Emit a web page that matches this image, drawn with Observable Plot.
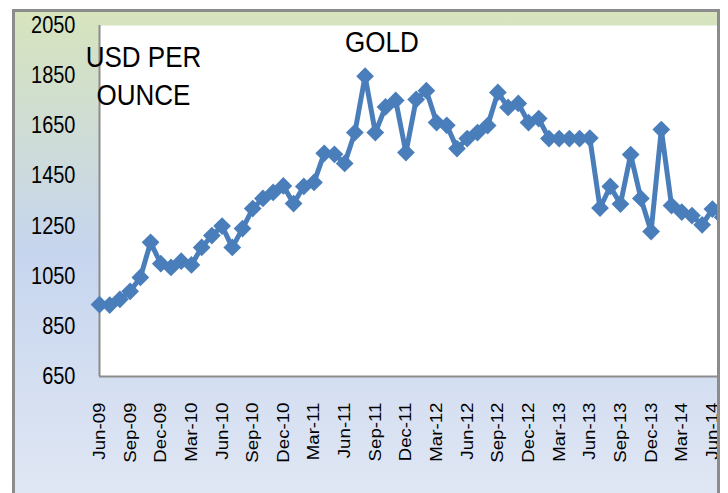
<!DOCTYPE html>
<html><head><meta charset="utf-8">
<script src="https://cdn.jsdelivr.net/npm/d3@7"></script>
<script src="https://cdn.jsdelivr.net/npm/@observablehq/plot@0.6"></script>
<style>
html,body{margin:0;padding:0;width:728px;height:493px;overflow:hidden;background:#fff;font-family:"Liberation Sans",Arial,sans-serif;}
#box{position:absolute;left:12px;top:9px;width:708px;height:520px;box-sizing:border-box;border:3px solid #8c8c8c;border-bottom:none;background:linear-gradient(to bottom,#d7e4bd 0px,#c6d5ee 240px,#e0e7f4 484px);}
#chart{position:absolute;left:0;top:0;}
.ann{position:absolute;color:#000;font-size:26px;line-height:33px;transform-origin:0 0;transform:scaleY(1.13);white-space:nowrap;}
#title{left:345px;top:24px;}
#unit{left:85px;top:39px;width:117px;text-align:center;}
</style></head><body>
<div id="box"></div>
<div id="chart"></div>
<div class="ann" id="title">GOLD</div>
<div class="ann" id="unit">USD PER<br>OUNCE</div>
<script>
const months = ["Jun-09","Jul-09","Aug-09","Sep-09","Oct-09","Nov-09","Dec-09",
  "Jan-10","Feb-10","Mar-10","Apr-10","May-10","Jun-10","Jul-10","Aug-10","Sep-10","Oct-10","Nov-10","Dec-10",
  "Jan-11","Feb-11","Mar-11","Apr-11","May-11","Jun-11","Jul-11","Aug-11","Sep-11","Oct-11","Nov-11","Dec-11",
  "Jan-12","Feb-12","Mar-12","Apr-12","May-12","Jun-12","Jul-12","Aug-12","Sep-12","Oct-12","Nov-12","Dec-12",
  "Jan-13","Feb-13","Mar-13","Apr-13","May-13","Jun-13","Jul-13","Aug-13","Sep-13","Oct-13","Nov-13","Dec-13",
  "Jan-14","Feb-14","Mar-14","Apr-14","May-14","Jun-14","Jul-14"];
const gold = [937,935,958,990,1045,1185,1100,
  1085,1110,1095,1165,1212,1250,1165,1240,1320,1360,1384,1410,
  1340,1408,1424,1540,1536,1500,1623,1848,1623,1725,1751,1543,
  1755,1790,1663,1652,1559,1599,1623,1651,1783,1723,1739,1663,
  1679,1599,1599,1599,1599,1601,1322,1408,1338,1535,1360,1228,
  1635,1332,1306,1292,1255,1318,1285];
const tickLabels = ["Jun-09","Sep-09","Dec-09","Mar-10","Jun-10","Sep-10","Dec-10","Mar-11","Jun-11","Sep-11","Dec-11",
  "Mar-12","Jun-12","Sep-12","Dec-12","Mar-13","Jun-13","Sep-13","Dec-13","Mar-14","Jun-14"];
const yTicks = [650,850,1050,1250,1450,1650,1850,2050];

const data = months.map((m, i) => ({i, month: m, price: gold[i]}));
const tickIdx = tickLabels.map(l => months.indexOf(l));

const plot = Plot.plot({
  width: 717, height: 483,
  marginLeft: 99, marginRight: 0, marginTop: 25, marginBottom: 107,
  style: {background: "transparent", overflow: "hidden", fontFamily: '"Liberation Sans", Arial, sans-serif', color: "#000"},
  x: {type: "linear", domain: [0, 60.5]},
  y: {domain: [650, 2050]},
  marks: [
    Plot.frame({fill: "white", stroke: "none"}),
    Plot.axisY({ticks: yTicks, tickSize: 0, tickPadding: 24, fontSize: 20, label: null, tickFormat: d => String(d)}),
    Plot.axisX({ticks: tickIdx, tickFormat: i => months[i], tickSize: 0, tickPadding: 26, tickRotate: -90, fontSize: 17, label: null}),
    Plot.ruleX([0], {stroke: "#8c8c8c", strokeWidth: 2}),
    Plot.ruleY([650], {stroke: "#8c8c8c", strokeWidth: 2}),
    Plot.line(data, {x: "i", y: "price", stroke: "#4a7ebb", strokeWidth: 5, strokeLinejoin: "round"}),
    Plot.dot(data, {x: "i", y: "price", symbol: "diamond2", r: 8, fill: "#4a7ebb", stroke: "none", ariaLabel: "markers"})
  ]
});
function stretch(sel, sx, sy) {
  plot.querySelectorAll(sel).forEach(t => {
    const tr = t.getAttribute("transform");
    if (tr && tr.includes("translate")) t.setAttribute("transform", tr + ` scale(${sx},${sy})`);
  });
}
stretch('g[aria-label="y-axis tick label"] text', 1, 1.18);
stretch('g[aria-label="x-axis tick label"] text', 1.1, 1);
stretch('g[aria-label="markers"] path', 1, 1.1);
document.getElementById("chart").appendChild(plot);
</script>
</body></html>
